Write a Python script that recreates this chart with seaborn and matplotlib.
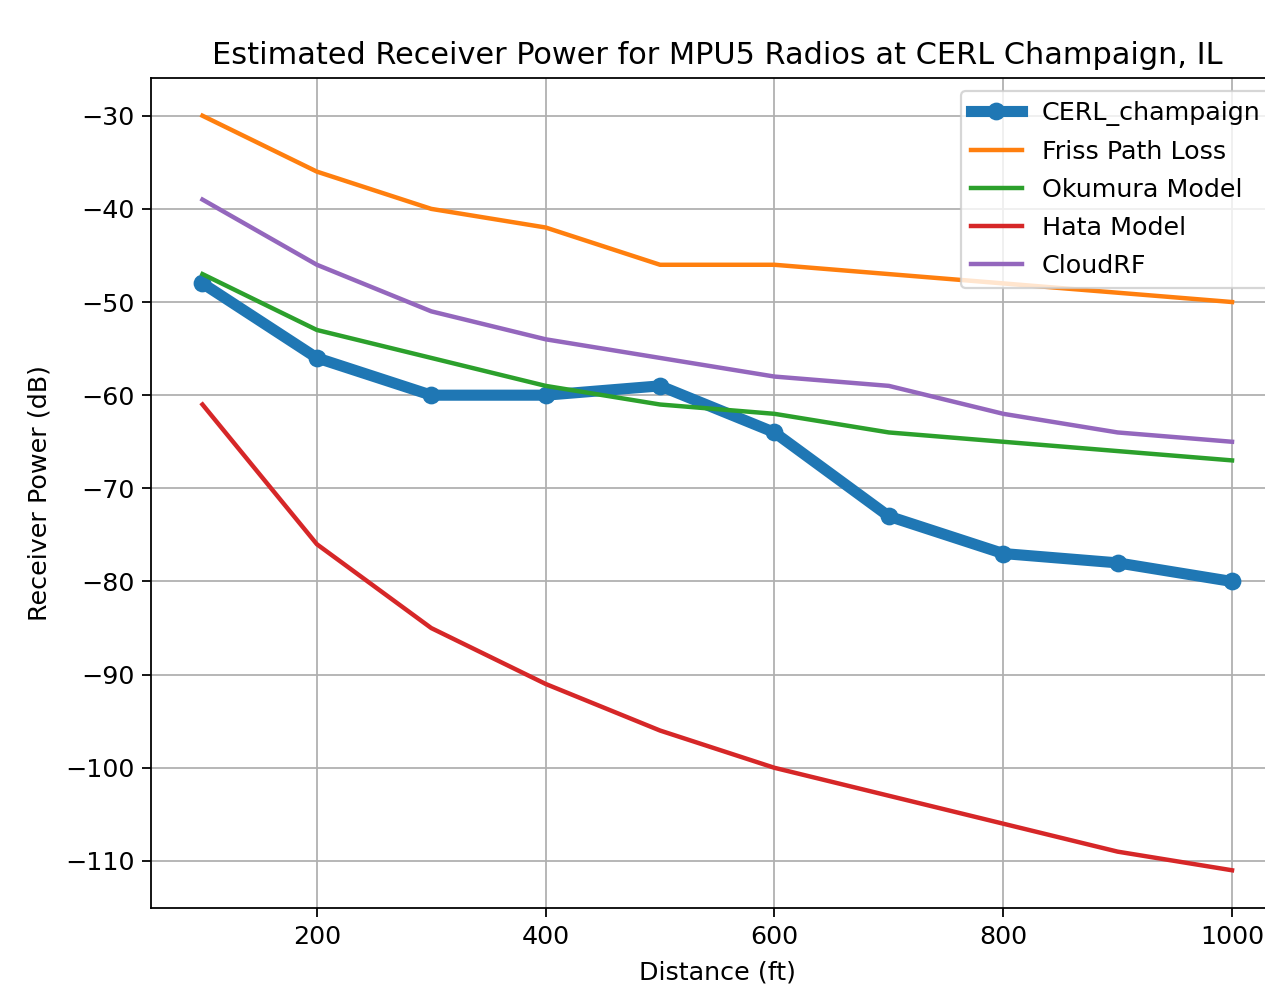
import matplotlib
matplotlib.use("Agg")
import matplotlib.pyplot as plt
import seaborn as sns
import pandas as pd

distance = [100, 200, 300, 400, 500, 600, 700, 800, 900, 1000]
cerl_champaign = [-48, -56, -60, -60, -59, -64, -73, -77, -78, -80]
friss_path_loss = [-30, -36, -40, -42, -46, -46, -47, -48, -49, -50]
okumura_model = [-47, -53, -56, -59, -61, -62, -64, -65, -66, -67]
hata_model = [-61, -76, -85, -91, -96, -100, -103, -106, -109, -111]
cloudrf = [-39, -46, -51, -54, -56, -58, -59, -62, -64, -65]

DPI = 160
fig = plt.figure(figsize=(1265 / DPI, 988 / DPI), dpi=DPI)
W, H = 1265, 988
ax = fig.add_axes([151 / W, 1 - 908 / H, (1283.5 - 151) / W, (908 - 78) / H])

sns.lineplot(x=distance, y=cerl_champaign, ax=ax, color="#1f77b4", linewidth=5,
             marker="o", markersize=8, markeredgewidth=0, label="CERL_champaign")
sns.lineplot(x=distance, y=friss_path_loss, ax=ax, color="#ff7f0e", linewidth=2,
             label="Friss Path Loss")
sns.lineplot(x=distance, y=okumura_model, ax=ax, color="#2ca02c", linewidth=2,
             label="Okumura Model")
sns.lineplot(x=distance, y=hata_model, ax=ax, color="#d62728", linewidth=2,
             label="Hata Model")
sns.lineplot(x=distance, y=cloudrf, ax=ax, color="#9467bd", linewidth=2,
             label="CloudRF")

ax.set_xlim(55, 1045)
ax.set_ylim(-115.05, -25.95)
ax.set_yticks([-110, -100, -90, -80, -70, -60, -50, -40, -30])
ax.set_xticks([200, 400, 600, 800, 1000])
ax.grid(True, color="#b0b0b0", linewidth=0.8)
ax.set_axisbelow(True)
ax.set_title("Estimated Receiver Power for MPU5 Radios at CERL Champaign, IL",
             fontsize=13.7, pad=6.5)
ax.set_xlabel("Distance (ft)", fontsize=11.4, labelpad=5.5)
ax.set_ylabel("Receiver Power (dB)", fontsize=11.4, labelpad=6)
ax.tick_params(labelsize=11.4, length=4)
ax.legend(loc="upper right", fontsize=11.4, labelspacing=0.55)

fig.savefig("out.png", dpi=DPI)
